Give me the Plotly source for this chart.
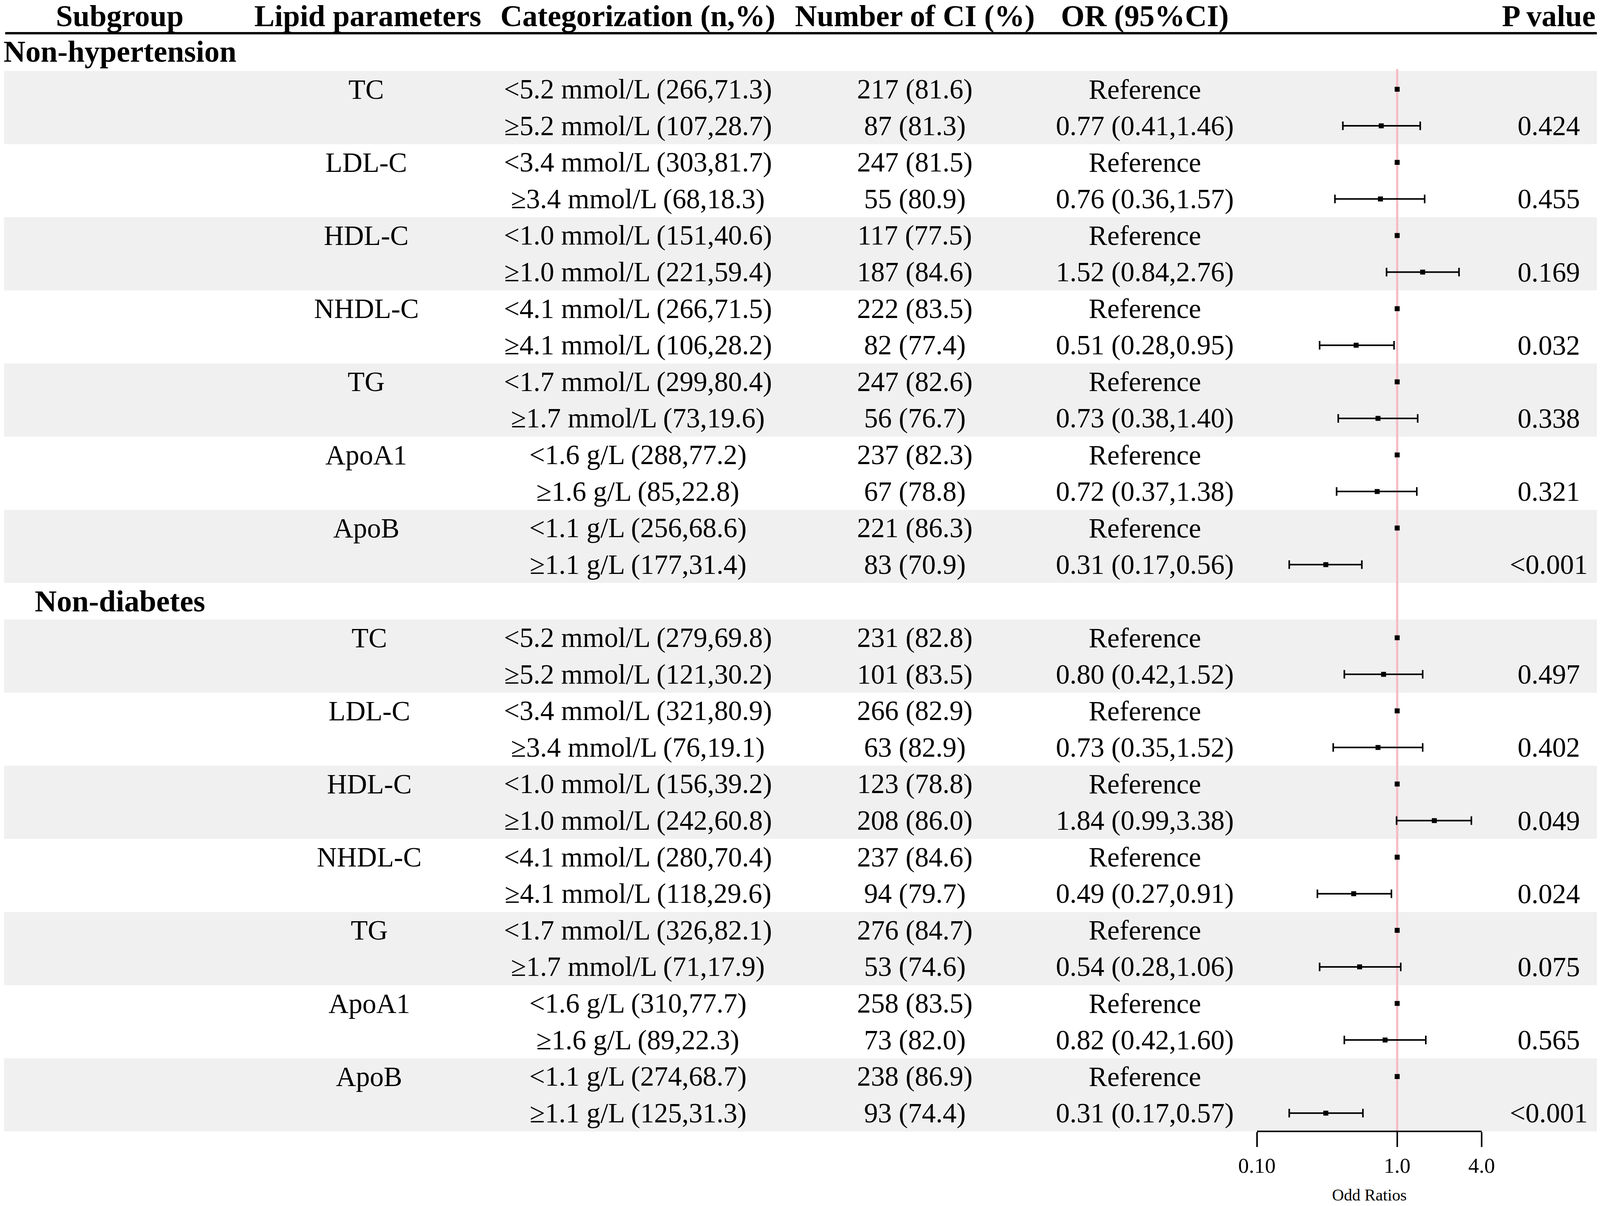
import math
import plotly.graph_objects as go

# ---------------- data ----------------
headers = ["Subgroup", "Lipid parameters", "Categorization (n,%)", "Number of CI (%)", "OR (95%CI)", "P value"]
groups = ["Non-hypertension", "Non-diabetes"]
lipids = ["TC", "LDL-C", "HDL-C", "NHDL-C", "TG", "ApoA1", "ApoB"]

cat_g1 = ["<5.2 mmol/L (266,71.3)", "≥5.2 mmol/L (107,28.7)",
          "<3.4 mmol/L (303,81.7)", "≥3.4 mmol/L (68,18.3)",
          "<1.0 mmol/L (151,40.6)", "≥1.0 mmol/L (221,59.4)",
          "<4.1 mmol/L (266,71.5)", "≥4.1 mmol/L (106,28.2)",
          "<1.7 mmol/L (299,80.4)", "≥1.7 mmol/L (73,19.6)",
          "<1.6 g/L (288,77.2)", "≥1.6 g/L (85,22.8)",
          "<1.1 g/L (256,68.6)", "≥1.1 g/L (177,31.4)"]
ci_g1 = ["217 (81.6)", "87 (81.3)", "247 (81.5)", "55 (80.9)", "117 (77.5)", "187 (84.6)",
         "222 (83.5)", "82 (77.4)", "247 (82.6)", "56 (76.7)", "237 (82.3)", "67 (78.8)",
         "221 (86.3)", "83 (70.9)"]
or_g1 = [0.77, 0.76, 1.52, 0.51, 0.73, 0.72, 0.31]
lo_g1 = [0.41, 0.36, 0.84, 0.28, 0.38, 0.37, 0.17]
hi_g1 = [1.46, 1.57, 2.76, 0.95, 1.40, 1.38, 0.56]
p_g1 = ["0.424", "0.455", "0.169", "0.032", "0.338", "0.321", "<0.001"]

cat_g2 = ["<5.2 mmol/L (279,69.8)", "≥5.2 mmol/L (121,30.2)",
          "<3.4 mmol/L (321,80.9)", "≥3.4 mmol/L (76,19.1)",
          "<1.0 mmol/L (156,39.2)", "≥1.0 mmol/L (242,60.8)",
          "<4.1 mmol/L (280,70.4)", "≥4.1 mmol/L (118,29.6)",
          "<1.7 mmol/L (326,82.1)", "≥1.7 mmol/L (71,17.9)",
          "<1.6 g/L (310,77.7)", "≥1.6 g/L (89,22.3)",
          "<1.1 g/L (274,68.7)", "≥1.1 g/L (125,31.3)"]
ci_g2 = ["231 (82.8)", "101 (83.5)", "266 (82.9)", "63 (82.9)", "123 (78.8)", "208 (86.0)",
         "237 (84.6)", "94 (79.7)", "276 (84.7)", "53 (74.6)", "258 (83.5)", "73 (82.0)",
         "238 (86.9)", "93 (74.4)"]
or_g2 = [0.80, 0.73, 1.84, 0.49, 0.54, 0.82, 0.31]
lo_g2 = [0.42, 0.35, 0.99, 0.27, 0.28, 0.42, 0.17]
hi_g2 = [1.52, 1.52, 3.38, 0.91, 1.06, 1.60, 0.57]
p_g2 = ["0.497", "0.402", "0.049", "0.024", "0.075", "0.565", "<0.001"]

tick_vals = [0.1, 1.0, 4.0]
tick_text = ["0.10", "1.0", "4.0"]
axis_title = "Odd Ratios"
ref_label = "Reference"

# ---------------- page geometry ----------------
# visible page is ~4101 x 3087 CSS px with an 8 px body margin
ZX = 0.95     # CSS px per reference px, horizontally
ZY = 1.0      # CSS px per reference px, vertically
M = 8
W = 4094
H = 3079
ROW0 = 228.5   # reference px of first data row
ROWH = 93.6    # reference px per row


def px(ref_x):
    return (ref_x * ZX - M) / W


def sx(v):
    return v * ZX


def sy(v):
    return v * ZY


FS = 0.96
row0_css = ROW0 * ZY - M
rowh_css = ROWH * ZY
y_top = -row0_css / rowh_css
y_bot = (H - row0_css) / rowh_css

FONT = "Liberation Serif"
TXT = 74 * FS
HDR = 81 * FS
col_x = {"sub": px(323), "lip": [px(987), px(995)], "cat": px(1719), "ci": px(2465),
         "or": px(3085), "p": px(4174)}
GREY = "#f0f0f0"
PINK = "#f6bcc6"

group_data = [
    (cat_g1, ci_g1, or_g1, lo_g1, hi_g1, p_g1),
    (cat_g2, ci_g2, or_g2, lo_g2, hi_g2, p_g2),
]

annotations = []
shapes = []


def add_text(x, y, text, size=TXT, bold=False):
    annotations.append(dict(
        x=x, y=y, xref="paper", yref="y", text=(f"<b>{text}</b>" if bold else text),
        showarrow=False, xanchor="center", yanchor="middle",
        font=dict(family=FONT, size=size, color="black")))


hdr_keys = ["sub", "lip", "cat", "ci", "or", "p"]
for k, h in zip(hdr_keys, headers):
    x = (col_x[k][0] + col_x[k][1]) / 2 if k == "lip" else col_x[k]
    add_text(x, -2.0, h, size=HDR, bold=True)

shapes.append(dict(type="line", xref="paper", yref="y", x0=px(14), x1=px(4303), y0=-1.533, y1=-1.533,
                   line=dict(color="black", width=sy(6))))

ref_y, est_x, est_y, err_p, err_m = [], [], [], [], []
group_label_rows = [-1.03, 14.0]
group_base_rows = [0, 15]
for gi, (cats, cis, ors, los, his, ps) in enumerate(group_data):
    add_text(col_x["sub"], group_label_rows[gi], groups[gi], size=HDR, bold=True)
    base = group_base_rows[gi]
    for li, lip in enumerate(lipids):
        r0 = base + 2 * li
        r1 = r0 + 1
        if li % 2 == 0:
            shapes.append(dict(type="rect", xref="paper", yref="y", x0=px(11), x1=px(4304),
                               y0=r0 - 0.5, y1=r1 + 0.5, fillcolor=GREY, line=dict(width=0), layer="below"))
        add_text(col_x["lip"][gi], r0, lip)
        add_text(col_x["cat"], r0, cats[2 * li])
        add_text(col_x["cat"], r1, cats[2 * li + 1])
        add_text(col_x["ci"], r0, cis[2 * li])
        add_text(col_x["ci"], r1, cis[2 * li + 1])
        add_text(col_x["or"], r0, ref_label)
        add_text(col_x["or"], r1, f"{ors[li]:.2f} ({los[li]:.2f},{his[li]:.2f})")
        add_text(col_x["p"], r1, ps[li])
        ref_y.append(r0)
        est_x.append(ors[li])
        est_y.append(r1)
        err_p.append(his[li] - ors[li])
        err_m.append(ors[li] - los[li])

last_row = group_base_rows[1] + 2 * len(lipids) - 1
axis_row = last_row + 0.5

fig = go.Figure()
fig.add_trace(go.Scatter(x=[1, 1], y=[-0.55, axis_row], mode="lines",
                         line=dict(color=PINK, width=sx(6)), hoverinfo="skip", showlegend=False))
fig.add_trace(go.Scatter(x=[1] * len(ref_y), y=ref_y, mode="markers",
                         marker=dict(symbol="square", size=12.7, color="black", line=dict(width=0)),
                         showlegend=False))
fig.add_trace(go.Scatter(x=est_x, y=est_y, mode="markers",
                         marker=dict(symbol="square", size=12.7, color="black", line=dict(width=0)),
                         error_x=dict(type="data", symmetric=False, array=err_p, arrayminus=err_m,
                                      color="black", thickness=sy(4), width=sy(11)),
                         showlegend=False))

x0 = px(3387)
x1 = px(3992.6)
axis_css = row0_css + axis_row * rowh_css
axis_pos = 1 - axis_css / H

annotations.append(dict(x=(x0 + x1) / 2, y=30.24, xref="paper", yref="y", text=axis_title,
                        showarrow=False, xanchor="center", yanchor="middle",
                        font=dict(family=FONT, size=44 * FS, color="black")))

fig.update_layout(
    width=W, height=H, margin=dict(l=0, r=0, t=0, b=0, pad=0, autoexpand=False),
    paper_bgcolor="white", plot_bgcolor="rgba(0,0,0,0)",
    showlegend=False,
    xaxis=dict(type="log", domain=[x0, x1], range=[math.log10(0.1), math.log10(4)],
               anchor="free", position=axis_pos, showgrid=False, zeroline=False, automargin=False,
               showline=True, linecolor="black", linewidth=sy(4),
               ticks="outside", ticklen=sy(38), tickwidth=sx(4), tickcolor="black",
               tickvals=tick_vals, ticktext=tick_text,
               tickfont=dict(family=FONT, size=57 * FS, color="black")),
    yaxis=dict(domain=[0, 1], range=[y_bot, y_top], visible=False, automargin=False),
    annotations=annotations, shapes=shapes,
)

fig.write_html("out.html")
